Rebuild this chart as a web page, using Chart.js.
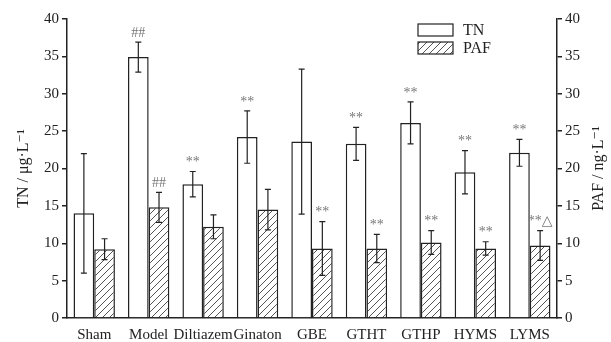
<!DOCTYPE html>
<html>
<head>
<meta charset="utf-8">
<script src="https://cdn.jsdelivr.net/npm/chart.js@4.4.0/dist/chart.umd.min.js"></script>
<style>
  html, body { margin: 0; padding: 0; background: #fff; }
  #wrap { width: 611px; height: 342px; }
</style>
</head>
<body>
<div id="wrap"><canvas id="c" width="611" height="342"></canvas></div>
<script>
const groups = ['Sham', 'Model', 'Diltiazem', 'Ginaton', 'GBE', 'GTHT', 'GTHP', 'HYMS', 'LYMS'];
const tnValues = [14.0, 34.9, 17.9, 24.2, 23.6, 23.3, 26.1, 19.5, 22.1];
const tnErrors = [8.0, 2.0, 1.7, 3.5, 9.7, 2.2, 2.8, 2.9, 1.8];
const pafValues = [9.2, 14.8, 12.2, 14.5, 9.3, 9.3, 10.1, 9.3, 9.7];
const pafErrors = [1.4, 2.0, 1.6, 2.7, 3.6, 1.9, 1.6, 0.9, 2.0];
const tnMarks = ['', '##', '**', '**', '', '**', '**', '**', '**'];
const pafMarks = ['', '##', '', '', '**', '**', '**', '**', '**\u25B3'];
const axisTicks = [0, 5, 10, 15, 20, 25, 30, 35, 40];
const leftTitle = 'TN / \u03BCg\u00B7L\u207B\u00B9';
const rightTitle = 'PAF / ng\u00B7L\u207B\u00B9';

const serif = "'Liberation Serif', 'DejaVu Serif', serif";

function makeHatch() {
  const p = document.createElement('canvas');
  p.width = 7; p.height = 7;
  const g = p.getContext('2d');
  g.fillStyle = '#fff';
  g.fillRect(0, 0, 7, 7);
  g.strokeStyle = '#555';
  g.lineWidth = 1;
  g.beginPath();
  g.moveTo(-1, 8); g.lineTo(8, -1);
  g.moveTo(-1, 1); g.lineTo(1, -1);
  g.moveTo(6, 8); g.lineTo(8, 6);
  g.stroke();
  return g.createPattern(p, 'repeat');
}

const ctx = document.getElementById('c').getContext('2d');
const hatch = makeHatch();

const errorBars = {
  id: 'errorBars',
  afterDatasetsDraw(chart) {
    const c = chart.ctx;
    const sets = [[tnValues, tnErrors, tnMarks], [pafValues, pafErrors, pafMarks]];
    sets.forEach((s, i) => {
      const meta = chart.getDatasetMeta(i);
      const scale = chart.scales[meta.yAxisID];
      meta.data.forEach((bar, j) => {
        const x = bar.x;
        const yt = scale.getPixelForValue(s[0][j] + s[1][j]);
        const yb = scale.getPixelForValue(s[0][j] - s[1][j]);
        c.save();
        c.strokeStyle = '#222';
        c.lineWidth = 1.2;
        c.beginPath();
        c.moveTo(x, yt); c.lineTo(x, yb);
        c.moveTo(x - 3, yt); c.lineTo(x + 3, yt);
        c.moveTo(x - 3, yb); c.lineTo(x + 3, yb);
        c.stroke();
        if (s[2][j]) {
          c.fillStyle = '#777';
          c.font = '14px ' + serif;
          c.textAlign = 'center';
          c.textBaseline = 'bottom';
          c.fillText(s[2][j], x, yt - 2);
        }
        c.restore();
      });
    });
  }
};

const boxLegend = {
  id: 'boxLegend',
  afterDraw(chart) {
    const c = chart.ctx;
    const x0 = 418, w = 35, h = 12;
    chart.data.datasets.forEach((ds, i) => {
      const y = 24 + i * 18;
      c.save();
      c.fillStyle = ds.backgroundColor;
      c.fillRect(x0, y, w, h);
      c.strokeStyle = '#222';
      c.lineWidth = 1.2;
      c.strokeRect(x0, y, w, h);
      c.fillStyle = '#222';
      c.font = '16px ' + serif;
      c.textBaseline = 'middle';
      c.fillText(ds.label, x0 + w + 10, y + h / 2 + 1);
      c.restore();
    });
  }
};

// both axis titles read bottom-to-top, as in the original
const axisTitles = {
  id: 'axisTitles',
  afterDraw(chart) {
    const c = chart.ctx;
    const a = chart.chartArea;
    const mid = (a.top + a.bottom) / 2;
    [[leftTitle, 24], [rightTitle, 599]].forEach(t => {
      c.save();
      c.translate(t[1], mid);
      c.rotate(-Math.PI / 2);
      c.fillStyle = '#222';
      c.font = '16px ' + serif;
      c.textAlign = 'center';
      c.textBaseline = 'middle';
      c.fillText(t[0], 0, 0);
      c.restore();
    });
  }
};

function yAxis(pos, w) {
  return {
    position: pos,
    min: 0,
    max: 40,
    afterBuildTicks: axis => { axis.ticks = axisTicks.map(v => ({ value: v })); },
    afterFit: axis => { axis.width = w; },
    grid: { display: true, drawOnChartArea: false, drawTicks: true, tickLength: 5, color: '#222', lineWidth: 1.5 },
    border: { display: true, color: '#222', width: 1.5 },
    ticks: { color: '#222', font: { family: serif, size: 15 }, padding: 3 }
  };
}

new Chart(ctx, {
  type: 'bar',
  data: {
    labels: groups,
    datasets: [
      { label: 'TN', data: tnValues, yAxisID: 'y', backgroundColor: '#fff', borderColor: '#222', borderWidth: 1.5 },
      { label: 'PAF', data: pafValues, yAxisID: 'y2', backgroundColor: hatch, borderColor: '#222', borderWidth: 1.5 }
    ]
  },
  options: {
    responsive: false,
    animation: false,
    layout: { padding: { top: 19, right: 0, left: 0, bottom: 0 } },
    datasets: { bar: { categoryPercentage: 0.76, barPercentage: 1.0 } },
    plugins: { legend: { display: false }, tooltip: { enabled: false } },
    scales: {
      x: {
        afterFit: axis => { axis.height = 24; },
        grid: { display: false },
        border: { display: true, color: '#222', width: 1.5 },
        ticks: { color: '#222', font: { family: serif, size: 15 }, maxRotation: 0, autoSkip: false, padding: 0 }
      },
      y: yAxis('left', 67),
      y2: yAxis('right', 54)
    }
  },
  plugins: [errorBars, boxLegend, axisTitles]
});
</script>
</body>
</html>
